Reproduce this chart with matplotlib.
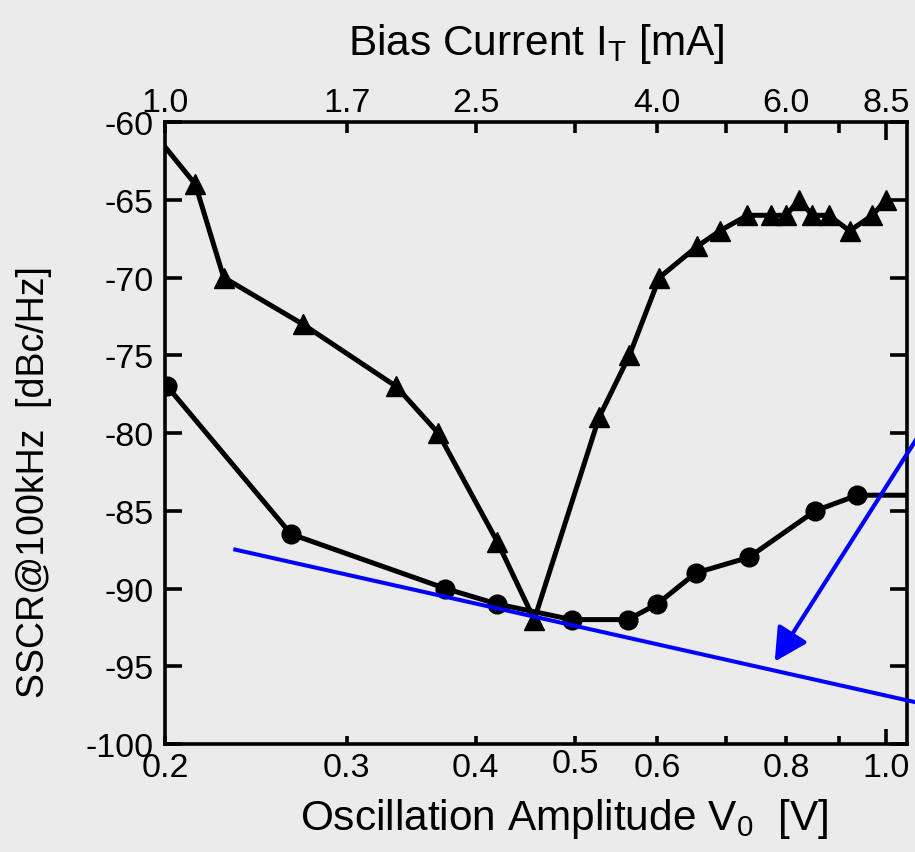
import matplotlib
matplotlib.use("Agg")
import matplotlib.pyplot as plt

plt.rcParams["font.family"] = ["Liberation Sans", "DejaVu Sans"]
plt.rcParams["mathtext.default"] = "regular"
plt.rcParams["axes.unicode_minus"] = False

BG = "#EBEBEB"

# 三角: SSCR (triangles)
tri_v = [0.2, 0.214, 0.228, 0.272, 0.335, 0.368, 0.42, 0.456, 0.527, 0.564,
         0.603, 0.656, 0.69, 0.734, 0.774, 0.80, 0.824, 0.848, 0.88, 0.922, 0.97, 1.0]
tri_db = [-61.6, -64, -70, -73, -77, -80, -87, -92, -79, -75,
          -70, -68, -67, -66, -66, -66, -65, -66, -66, -67, -66, -65]

# 丸: SSCR (circles)
cir_v = [0.201, 0.265, 0.374, 0.42, 0.496, 0.562, 0.6, 0.654, 0.736, 0.854, 0.938, 1.2]
cir_db = [-77, -86.5, -90, -91, -92, -92, -91, -89, -88, -85, -84, -84]

# blue guide line and arrow
guide_v = [0.234, 1.066]
guide_db = [-87.5, -97.3]
arrow_from = (1.07, -80.4)
arrow_to = (0.78, -94.7)

bottom_ticks = [0.2, 0.3, 0.4, 0.5, 0.6, 0.7, 0.8, 0.9, 1.0]
bottom_labels = ["0.2", "0.3", "0.4", "0.5", "0.6", "", "0.8", "", "1.0"]
top_labels = ["1.0", "1.7", "2.5", "", "4.0", "", "6.0", "", "8.5"]
y_ticks = [-100, -95, -90, -85, -80, -75, -70, -65, -60]

fig = plt.figure(figsize=(9.15, 8.53), dpi=100, facecolor=BG)
ax = fig.add_axes([0.1803, 0.1266, 0.8110, 0.7292])
ax.set_facecolor(BG)

ax.plot(tri_v, tri_db, color="black", linewidth=3.6, marker="^", markersize=14.5,
        markevery=list(range(1, len(tri_v))), zorder=3)
ax.plot(cir_v, cir_db, color="black", linewidth=3.6, marker="o", markersize=13.5,
        zorder=3)
ax.plot(guide_v, guide_db, color="#0000FF", linewidth=2.9, clip_on=False, zorder=4)
ax.annotate("", xy=arrow_to, xytext=arrow_from,
            arrowprops=dict(arrowstyle="-|>,head_length=2.0,head_width=1.05",
                            color="#0000FF", lw=3, shrinkA=0, shrinkB=0),
            annotation_clip=False, zorder=5)

ax.set_xscale("log")
ax.set_xlim(0.2, 1.048)
ax.set_ylim(-100, -60)
ax.set_xticks(bottom_ticks)
ax.set_xticklabels(bottom_labels)
ax.minorticks_off()
ax.set_yticks(y_ticks)
ax.set_yticklabels([str(v) for v in y_ticks])

for s in ax.spines.values():
    s.set_linewidth(2.6)

ax.tick_params(axis="y", direction="in", length=12, width=2.6, right=True,
               labelsize=24.5, pad=8)
ax.tick_params(axis="x", direction="in", length=6, width=2.6, labelsize=24.5, pad=6)

# 0.5 のラベルは少し上、1.0 の目盛りは長め
ax.xaxis.get_major_ticks()[3].set_pad(3)
ax.xaxis.get_major_ticks()[8].tick1line.set_markersize(11)

ax.set_xlabel("Oscillation Amplitude V$_0$  [V]", fontsize=30.5)
ax.xaxis.set_label_coords(0.538, -0.084)
ax.set_ylabel("SSCR@100kHz  [dBc/Hz]", fontsize=27)
ax.yaxis.set_label_coords(-0.152, 0.423)

top = ax.secondary_xaxis("top")
top.set_xticks(bottom_ticks)
top.set_xticklabels(top_labels)
top.minorticks_off()
top.tick_params(direction="in", length=8, width=2.6, labelsize=24.5, pad=3)
top.xaxis.get_major_ticks()[8].tick2line.set_markersize(13)
top.set_xlabel("Bias Current I$_T$ [mA]", fontsize=30.5, labelpad=24)

fig.savefig("out.png", dpi=100, facecolor=BG)
